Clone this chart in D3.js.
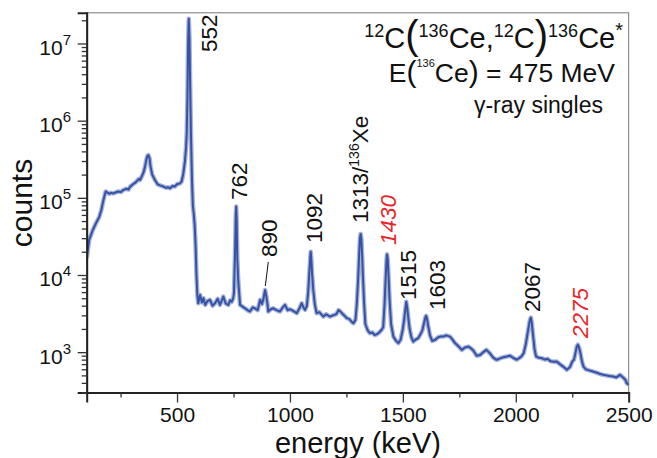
<!DOCTYPE html>
<html>
<head>
<meta charset="utf-8">
<script src="https://cdn.jsdelivr.net/npm/d3@7/dist/d3.min.js"></script>
<style>
  html, body { margin: 0; padding: 0; background: #fff; }
  svg { display: block; font-family: "Liberation Sans", Arial, Helvetica, sans-serif; }
</style>
</head>
<body>
<svg id="chart" width="657" height="458"></svg>
<script>
// ---- data ----
const energies = [
  100, 111, 127, 141, 156, 165, 171, 178, 184, 190, 200, 208, 218, 230, 240, 252, 262, 274, 285, 292,
  305, 318, 330, 336, 344, 352, 358, 364, 368, 373, 378, 383, 390, 402, 414, 425, 440, 451, 460, 469,
  480, 490, 500, 513, 520, 528, 535, 540, 543, 546, 549, 552, 555, 558, 562, 566, 570, 574, 578, 582,
  586, 590, 594, 602, 610, 617, 625, 635, 646, 657, 668, 680, 690, 697, 705, 715, 727, 735, 742, 748,
  752, 757, 760, 762, 764, 767, 771, 779, 790, 801, 812, 823, 835, 845, 857, 868, 876, 882, 886, 890,
  895, 900, 904, 915, 926, 940, 956, 968, 978, 990, 1000, 1012, 1030, 1042, 1052, 1060, 1067, 1075, 1081, 1086,
  1090, 1092, 1094, 1098, 1103, 1110, 1118, 1130, 1148, 1160, 1177, 1190, 1205, 1215, 1222, 1232, 1245, 1251, 1262, 1272,
  1281, 1290, 1296, 1302, 1307, 1310, 1313, 1316, 1319, 1323, 1328, 1334, 1345, 1354, 1365, 1375, 1384, 1395, 1406, 1413,
  1419, 1424, 1428, 1430, 1433, 1437, 1442, 1448, 1458, 1470, 1480, 1490, 1500, 1506, 1511, 1515, 1519, 1524, 1530, 1538,
  1546, 1556, 1568, 1576, 1586, 1594, 1600, 1603, 1607, 1612, 1620, 1630, 1642, 1655, 1668, 1679, 1692, 1709, 1720, 1731,
  1745, 1761, 1775, 1790, 1800, 1812, 1827, 1842, 1856, 1870, 1885, 1900, 1915, 1930, 1945, 1960, 1974, 1990, 2004, 2015,
  2025, 2035, 2045, 2053, 2060, 2064, 2067, 2071, 2076, 2083, 2090, 2100, 2115, 2130, 2140, 2155, 2170, 2181, 2195, 2210,
  2226, 2240, 2250, 2258, 2265, 2270, 2275, 2280, 2286, 2293, 2300, 2310, 2325, 2343, 2360, 2375, 2388, 2400, 2415, 2432,
  2445, 2461, 2475, 2485, 2491, 2500
];
const counts = [
  16500, 28500, 38300, 46800, 56900, 70000, 85000, 104000, 121000, 118000, 113000, 116000, 114000, 118000, 121000, 119000, 126000, 131000, 128000, 139000,
  150000, 160000, 175000, 170000, 190000, 215000, 252000, 310000, 345000, 358000, 330000, 252000, 200000, 170000, 150000, 145000, 140000, 135000, 137000, 133000,
  142000, 140000, 150000, 154000, 162000, 207000, 300000, 450000, 700000, 1900000, 10000000, 21000000, 12000000, 3000000, 600000, 180000, 80000, 62000, 45000, 25000,
  10000, 5500, 4300, 5500, 4400, 5000, 4100, 4600, 4760, 4000, 4300, 4900, 4100, 4600, 5250, 4300, 4100, 4700, 4500, 4900,
  5800, 20000, 60000, 77000, 52000, 16000, 8600, 4100, 3900, 3700, 3500, 3360, 3800, 3700, 3500, 4760, 4200, 4800, 5600, 6400,
  5400, 4300, 3360, 3600, 3700, 3500, 3360, 3800, 4100, 3500, 3600, 3450, 3200, 3700, 4300, 3800, 3530, 4000, 6200, 11000,
  17000, 20000, 17000, 10500, 6500, 4200, 3200, 3300, 2890, 3100, 2890, 3000, 3100, 3500, 3400, 3150, 2900, 2760, 2700, 2500,
  2370, 2600, 4200, 9000, 20000, 30000, 34000, 30000, 20000, 10000, 4500, 2300, 1900, 1760, 1800, 1670, 1700, 1800, 1950, 2100,
  4200, 9500, 16500, 18500, 16000, 9000, 4300, 2300, 1590, 1400, 1310, 1450, 2000, 2700, 3600, 4500, 3800, 2800, 2000, 1550,
  1370, 1450, 1520, 1670, 1900, 2400, 2850, 2950, 2700, 2200, 1650, 1400, 1440, 1550, 1600, 1590, 1650, 1590, 1450, 1310,
  1200, 1070, 1150, 1180, 1130, 1050, 900, 920, 1000, 1070, 970, 850, 795, 830, 860, 877, 900, 840, 800, 836,
  880, 970, 1300, 1800, 2400, 2700, 2800, 2400, 1700, 1100, 880, 850, 836, 800, 820, 760, 750, 755, 700, 650,
  590, 640, 755, 800, 1000, 1180, 1250, 1150, 980, 760, 650, 600, 580, 560, 540, 520, 508, 500, 490, 483,
  470, 508, 470, 440, 397, 378
];
const xMajorTicks = [500, 1000, 1500, 2000, 2500];
const xMinorTicks = [250, 750, 1250, 1750, 2250];
const yMajorExp = [3, 4, 5, 6, 7];
const peakLabels = ["552", "762", "890", "1092", "1313/", "1430", "1515", "1603", "2067", "2275"];
const peakEnergies = [552, 762, 890, 1092, 1313, 1430, 1515, 1603, 2067, 2275];
const peakIsNew = [false, false, false, false, false, true, false, false, false, true];

// ---- layout ----
const svg = d3.select("#chart");
const L = 86.7, R = 628.7, T = 12.8, B = 392.5;
const x = d3.scaleLinear().domain([100, 2500]).range([L, R]);
const y = d3.scaleLog().domain([300, 2.5e7]).range([B, T]);
const FONT = "'Liberation Sans', Arial, Helvetica, sans-serif";

// frame (top/right)
svg.append("rect").attr("x", L).attr("y", T).attr("width", R - L).attr("height", B - T)
  .attr("fill", "none").attr("stroke", "#777").attr("stroke-width", 1);

// spectrum
const data = energies.map((e, i) => ({ e, c: counts[i] }));
svg.append("clipPath").attr("id", "clip").append("rect")
  .attr("x", L).attr("y", T).attr("width", R - L).attr("height", B - T);
const line = d3.line().x(d => x(d.e)).y(d => y(d.c));
const g = svg.append("g").attr("clip-path", "url(#clip)");
g.append("path").datum(data).attr("d", line).attr("fill", "none")
  .attr("stroke", "#3a55a8").attr("stroke-opacity", 0.45).attr("stroke-width", 4.5).attr("stroke-linejoin", "round");
g.append("path").datum(data).attr("d", line).attr("fill", "none")
  .attr("stroke", "#3652a4").attr("stroke-width", 2).attr("stroke-linejoin", "round");

// x axis
const xAxisMaj = d3.axisBottom(x).tickValues(xMajorTicks).tickSize(10).tickFormat(d3.format("d"));
const xAxisMin = d3.axisBottom(x).tickValues(xMinorTicks).tickSize(5).tickFormat("");
const gx = svg.append("g").attr("transform", `translate(0,${B})`).call(xAxisMaj);
svg.append("g").attr("transform", `translate(0,${B})`).call(xAxisMin).select(".domain").remove();
gx.select(".domain").attr("stroke", "#222").attr("stroke-width", 2);
gx.selectAll(".tick text").attr("font-size", 21).attr("font-family", FONT).attr("fill", "#111").attr("dy", "1.0em").attr("y", 8);

// y axis
const yMinor = [];
for (let k = 2; k <= 7; k++) for (let m = 2; m <= 9; m++) {
  const v = m * Math.pow(10, k);
  if (v >= 300 && v <= 2.5e7) yMinor.push(v);
}
const yAxisMaj = d3.axisLeft(y).tickValues(yMajorExp.map(p => Math.pow(10, p))).tickSize(9).tickFormat("");
const yAxisMin = d3.axisLeft(y).tickValues(yMinor).tickSize(5).tickFormat("");
const gy = svg.append("g").attr("transform", `translate(${L},0)`).call(yAxisMaj);
svg.append("g").attr("transform", `translate(${L},0)`).call(yAxisMin).select(".domain").remove();
gy.select(".domain").attr("stroke", "#222").attr("stroke-width", 2);
svg.selectAll(".tick line").attr("stroke", "#333").attr("stroke-width", 1.3);

const ylab = svg.append("g");
yMajorExp.forEach(p => {
  const t = ylab.append("text").attr("x", 71).attr("y", y(Math.pow(10, p)) + 11.5)
    .attr("text-anchor", "end").attr("font-family", FONT).attr("fill", "#111");
  t.append("tspan").attr("font-size", 21).text("10");
  t.append("tspan").attr("font-size", 15).attr("dy", -10).text(p);
});

// axis titles
svg.append("text").attr("x", 358).attr("y", 453).attr("text-anchor", "middle")
  .attr("font-size", 29).attr("font-family", FONT).attr("fill", "#111").text("energy (keV)");
svg.append("text").attr("transform", "translate(32,203) rotate(-90)").attr("text-anchor", "middle")
  .attr("font-size", 30).attr("font-family", FONT).attr("fill", "#111").text("counts");

// peak labels (rotated)
const labelPos = {
  "552": [217, 52], "762": [247, 200], "890": [277, 257], "1092": [321.5, 243],
  "1313/": [368, 223], "1430": [396, 245], "1515": [416, 300], "1603": [445, 310],
  "2067": [540, 312], "2275": [588, 338]
};
peakLabels.forEach((lab, i) => {
  const p = labelPos[lab];
  const t = svg.append("text").attr("transform", `translate(${p[0]},${p[1]}) rotate(-90)`)
    .attr("font-size", 22.5).attr("font-family", FONT)
    .attr("fill", peakIsNew[i] ? "#e8262a" : "#111")
    .attr("font-style", peakIsNew[i] ? "italic" : "normal");
  t.append("tspan").text(lab);
  if (lab === "1313/") {
    t.append("tspan").attr("font-size", 14).attr("dy", -9).text("136");
    t.append("tspan").attr("dy", 9).text("Xe");
  }
});
// leader for 890
svg.append("line").attr("x1", 268.3).attr("y1", 262).attr("x2", 265.3).attr("y2", 286)
  .attr("stroke", "#111").attr("stroke-width", 1);

// title block
const t1 = svg.append("text").attr("x", 623).attr("y", 48).attr("text-anchor", "end")
  .attr("font-family", FONT).attr("fill", "#111").attr("font-size", 29);
t1.append("tspan").attr("font-size", 18).attr("dy", -11).text("12");
t1.append("tspan").attr("dy", 11).text("C");
t1.append("tspan").attr("font-size", 40).attr("dy", 1).text("(");
t1.append("tspan").attr("font-size", 18).attr("dy", -12).text("136");
t1.append("tspan").attr("dy", 11).text("Ce,");
t1.append("tspan").attr("font-size", 18).attr("dy", -11).text("12");
t1.append("tspan").attr("dy", 11).text("C");
t1.append("tspan").attr("font-size", 40).attr("dy", 1).text(")");
t1.append("tspan").attr("font-size", 18).attr("dy", -12).text("136");
t1.append("tspan").attr("dy", 11).text("Ce");
t1.append("tspan").attr("font-size", 20).attr("dy", -11).text("*");

const t2 = svg.append("text").attr("x", 615).attr("y", 82).attr("text-anchor", "end")
  .attr("font-family", FONT).attr("fill", "#111").attr("font-size", 26.5);
t2.append("tspan").text("E");
t2.append("tspan").attr("font-size", 30).text("(");
t2.append("tspan").attr("font-size", 11).attr("dy", -15).text("136");
t2.append("tspan").attr("dy", 15).text("Ce");
t2.append("tspan").attr("font-size", 30).text(")");
t2.append("tspan").text(" = 475 MeV");

svg.append("text").attr("x", 603).attr("y", 113).attr("text-anchor", "end")
  .attr("font-family", FONT).attr("fill", "#111").attr("font-size", 23).text("γ-ray singles");
</script>
</body>
</html>
